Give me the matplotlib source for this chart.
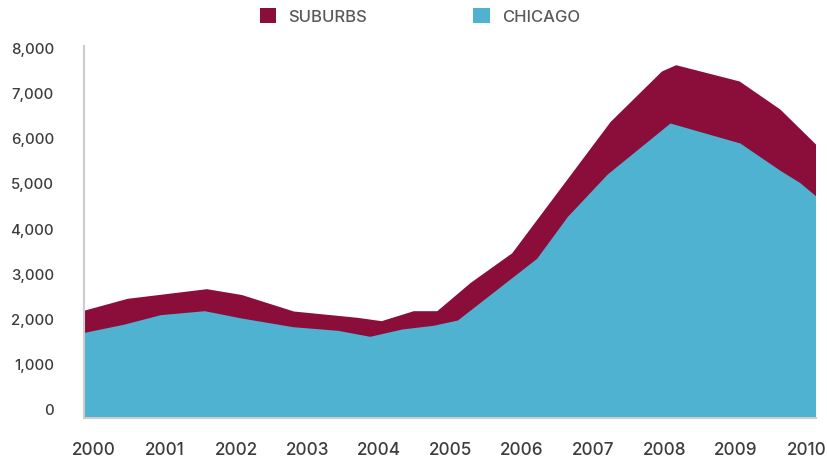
import numpy as np
import matplotlib
matplotlib.use('Agg')
import matplotlib.pyplot as plt
import matplotlib.transforms as mtransforms
from matplotlib.patches import Patch

plt.rcParams['font.family'] = ['Inter', 'DejaVu Sans']

SUBURBS_COLOR = '#8b0e3a'
CHICAGO_COLOR = '#4eb2d0'
AXIS_COLOR = '#cdcdcd'
TICK_COLOR = '#3c3c3c'
LEGEND_TEXT_COLOR = '#5a5a5a'

# Chicago line (top of the blue area)
chicago_years = [1999.87, 2000.42, 2000.93, 2001.55, 2002.07, 2002.79,
                 2003.42, 2003.87, 2004.32, 2004.76, 2005.10, 2006.21,
                 2006.64, 2007.20, 2008.08, 2009.06, 2009.62, 2009.90,
                 2010.12]
chicago_values = [1885, 2064, 2274, 2363, 2201, 2009,
                  1929, 1796, 1958, 2040, 2157, 3522,
                  4447, 5387, 6515, 6073, 5471, 5197,
                  4907]

# Chicago + suburbs (top of the maroon area)
total_years = [1999.87, 2000.47, 2001.58, 2002.07, 2002.80, 2003.69,
               2004.03, 2004.48, 2004.81, 2005.28, 2005.86, 2007.24,
               2007.96, 2008.16, 2009.05, 2009.62, 2010.12]
total_values = [2378, 2637, 2850, 2721, 2356, 2217,
                2142, 2363, 2363, 2991, 3644, 6549,
                7666, 7805, 7445, 6825, 6051]

year_ticks = list(range(2000, 2011))
value_ticks = [0, 1000, 2000, 3000, 4000, 5000, 6000, 7000, 8000]
legend_labels = ['SUBURBS', 'CHICAGO']

W, H = 828, 460
fig = plt.figure(figsize=(W / 100, H / 100), dpi=100)
ax = fig.add_axes([84.5 / W, 1 - 418.5 / H, (815.5 - 84.5) / W,
                   (418.5 - 47.3) / H])

ax.fill_between(total_years, 0, total_values, color=SUBURBS_COLOR,
                linewidth=0)
ax.fill_between(chicago_years, 0, chicago_values, color=CHICAGO_COLOR,
                linewidth=0)

ax.set_xlim(min(chicago_years), max(chicago_years))
ax.set_ylim(0, 8212)

for side in ['top', 'right']:
    ax.spines[side].set_visible(False)
for side in ['left', 'bottom']:
    ax.spines[side].set_color(AXIS_COLOR)
    ax.spines[side].set_linewidth(1.5)

ax.set_xticks(year_ticks)
ax.set_xticklabels([str(y) for y in year_ticks], fontweight='medium')
ax.tick_params(axis='x', length=0, pad=17, labelsize=12.3,
               labelcolor=TICK_COLOR)

# y labels sit a bit above their value, drawn by hand
ax.set_yticks([])
offset = mtransforms.ScaledTranslation(-30.5 / 100, 7 / 100,
                                       fig.dpi_scale_trans)
for v in value_ticks:
    ax.text(0, v, '{:,}'.format(v), transform=ax.get_yaxis_transform() + offset,
            ha='right', va='center', fontsize=10.8, color=TICK_COLOR,
            fontweight='medium')

handles = [Patch(facecolor=SUBURBS_COLOR, edgecolor='none'),
           Patch(facecolor=CHICAGO_COLOR, edgecolor='none')]
fig.legend(handles, legend_labels, loc='center', ncol=2,
           bbox_to_anchor=(419.7 / W, 1 - 17 / H), frameon=False,
           prop={'size': 12, 'weight': 'medium'},
           labelcolor=LEGEND_TEXT_COLOR,
           handlelength=1.0, handleheight=1.0, handletextpad=0.7,
           columnspacing=6.4, borderpad=0, borderaxespad=0)

fig.savefig('out.png', dpi=100)
